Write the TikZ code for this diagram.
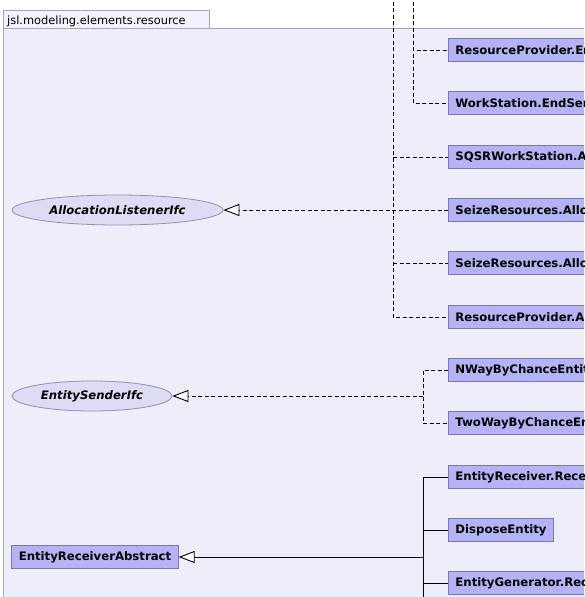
\documentclass[tikz,border=0pt]{standalone}
\usepackage{fontspec}
\setmainfont{DejaVu Sans}
\usetikzlibrary{arrows.meta,shapes.geometric}
\definecolor{pkgfill}{HTML}{EEEEFA}
\definecolor{tabfill}{HTML}{F2F2FC}
\definecolor{pkgline}{HTML}{A4A4BC}
\definecolor{boxfill}{HTML}{B4B4F5}
\definecolor{boxline}{HTML}{7878B4}
\definecolor{ellfill}{HTML}{DCDCF4}
\definecolor{ellline}{HTML}{9090B0}
\tikzset{
  rbox/.style={draw=boxline, fill=boxfill, line width=0.9pt,
    font=\bfseries\fontsize{11.7}{14}\selectfont,
    minimum height=23pt, inner ysep=0pt, inner xsep=7pt, anchor=west},
  cutbox/.style={rbox, text width=200pt, align=left},
  ellnode/.style={ellipse, draw=ellline, fill=ellfill, line width=0.8pt,
    font=\bfseries\itshape\fontsize{11.7}{14}\selectfont,
    minimum height=30pt, inner sep=0pt},
  dep/.style={draw=black, line width=0.9pt, dash pattern=on 4pt off 2.5pt},
  gen/.style={draw=black, line width=0.9pt},
  hollow/.style={-{Triangle[length=16pt, width=12pt, fill=white, line width=0.9pt]}}
}
\begin{document}
\begin{tikzpicture}[x=1pt, y=-1pt]
\useasboundingbox (0,0) rectangle (584,597);
\clip (0,0) rectangle (584,597);
\fill[white] (0,0) rectangle (584,597);
% package
\draw[pkgline, fill=pkgfill, line width=0.9pt] (3,28) rectangle (620,640);
\draw[pkgline, fill=tabfill, line width=0.9pt] (3,10) rectangle (209,28);
\node[anchor=base west, inner sep=0pt, font=\fontsize{11.4}{13}\selectfont] (pkg) at (7,24) {jsl.modeling.elements.resource};

% right boxes
\node[cutbox] (rp1) at (448,50) {ResourceProvider.En};
\node[cutbox] (ws) at (448,103) {WorkStation.EndSer};
\node[cutbox] (sqsr) at (448,157) {SQSRWorkStation.A};
\node[cutbox] (sz1) at (448,210) {SeizeResources.Alloc};
\node[cutbox] (sz2) at (448,263) {SeizeResources.Alloc};
\node[cutbox] (rp2) at (448,317) {ResourceProvider.A};
\node[cutbox] (nway) at (448,370) {NWayByChanceEntit};
\node[cutbox] (twoway) at (448,423) {TwoWayByChanceEn};
\node[cutbox] (er) at (448,477) {EntityReceiver.Recei};
\node[rbox, minimum width=104pt] (disp) at (448,530) {DisposeEntity};
\node[cutbox] (eg) at (448,583) {EntityGenerator.Rec};

% left nodes
\node[ellnode, minimum width=211pt] (alloc) at (117.5,210) {AllocationListenerIfc};
\node[ellnode, minimum width=160pt] (sender) at (92,396) {EntitySenderIfc};
\node[rbox, anchor=center, minimum width=166pt] (era) at (95,557) {EntityReceiverAbstract};

% AllocationListenerIfc realizations
\coordinate (t1) at (393,-5);
\coordinate (t2) at (413,-5);
\draw[dep] (t2) |- (rp1.west);
\draw[dep] (t2) |- (ws.west);
\draw[dep] (t1) |- (rp2.west);
\draw[dep] (sqsr.west -| t1) -- (sqsr.west);
\draw[dep] (sz2.west -| t1) -- (sz2.west);
\draw[dep, hollow] (sz1.west) -- (alloc.east);

% EntitySenderIfc realizations
\coordinate (j2) at (423,396);
\draw[dep] (nway.west) -| (j2) |- (twoway.west);
\draw[dep, hollow] (j2) -- (sender.east);

% EntityReceiverAbstract generalizations
\coordinate (j3) at (423,557);
\coordinate (b3) at (423,610);
\draw[gen] (er.west) -| (b3);
\draw[gen] (disp.west -| j3) -- (disp.west);
\draw[gen] (eg.west -| j3) -- (eg.west);
\draw[gen, hollow] (j3) -- (era.east);
\end{tikzpicture}
\end{document}
